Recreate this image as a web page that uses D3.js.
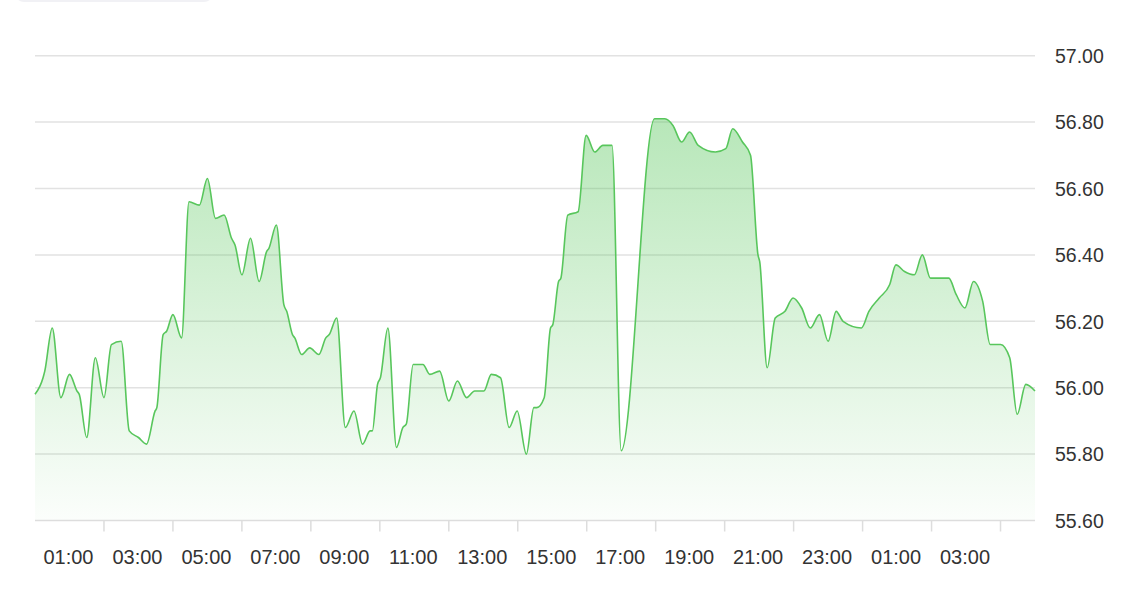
<!DOCTYPE html>
<html>
<head>
<meta charset="utf-8">
<script src="https://cdn.jsdelivr.net/npm/d3@7"></script>
<style>
  html, body { margin: 0; padding: 0; background: #ffffff; }
  svg { display: block; }
</style>
</head>
<body>
<svg id="chart" width="1146" height="610"></svg>
<script>
// ---- data ----
const times = [
  "2024-03-11 00:00","2024-03-11 00:14","2024-03-11 00:17","2024-03-11 00:30","2024-03-11 00:45",
  "2024-03-11 01:00","2024-03-11 01:13","2024-03-11 01:17","2024-03-11 01:30","2024-03-11 01:45",
  "2024-03-11 02:00","2024-03-11 02:13","2024-03-11 02:30","2024-03-11 02:44","2024-03-11 03:00",
  "2024-03-11 03:14","2024-03-11 03:29","2024-03-11 03:32","2024-03-11 03:43","2024-03-11 03:49",
  "2024-03-11 04:00","2024-03-11 04:15","2024-03-11 04:28","2024-03-11 04:46","2024-03-11 05:00",
  "2024-03-11 05:14","2024-03-11 05:29","2024-03-11 05:42","2024-03-11 05:48","2024-03-11 06:00",
  "2024-03-11 06:15","2024-03-11 06:30","2024-03-11 06:43","2024-03-11 06:47","2024-03-11 07:00",
  "2024-03-11 07:13","2024-03-11 07:18","2024-03-11 07:28","2024-03-11 07:32","2024-03-11 07:44",
  "2024-03-11 07:58","2024-03-11 08:14","2024-03-11 08:26","2024-03-11 08:32","2024-03-11 08:45",
  "2024-03-11 09:00","2024-03-11 09:15","2024-03-11 09:30","2024-03-11 09:43","2024-03-11 09:47",
  "2024-03-11 09:56","2024-03-11 10:01","2024-03-11 10:14","2024-03-11 10:29","2024-03-11 10:40",
  "2024-03-11 10:46","2024-03-11 10:58","2024-03-11 11:15","2024-03-11 11:27","2024-03-11 11:44",
  "2024-03-11 12:00","2024-03-11 12:15","2024-03-11 12:31","2024-03-11 12:45","2024-03-11 13:01",
  "2024-03-11 13:14","2024-03-11 13:30","2024-03-11 13:45","2024-03-11 13:59","2024-03-11 14:15",
  "2024-03-11 14:28","2024-03-11 14:33","2024-03-11 14:46","2024-03-11 14:57","2024-03-11 15:01",
  "2024-03-11 15:11","2024-03-11 15:15","2024-03-11 15:27","2024-03-11 15:45","2024-03-11 15:59",
  "2024-03-11 16:14","2024-03-11 16:28","2024-03-11 16:44","2024-03-11 17:00","2024-03-11 17:58",
  "2024-03-11 18:16","2024-03-11 18:30","2024-03-11 18:45","2024-03-11 18:59","2024-03-11 19:14",
  "2024-03-11 19:44","2024-03-11 20:02","2024-03-11 20:14","2024-03-11 20:31","2024-03-11 20:45",
  "2024-03-11 20:58","2024-03-11 21:01","2024-03-11 21:14","2024-03-11 21:28","2024-03-11 21:45",
  "2024-03-11 21:59","2024-03-11 22:14","2024-03-11 22:29","2024-03-11 22:45","2024-03-11 23:00",
  "2024-03-11 23:14","2024-03-11 23:26","2024-03-11 23:58","2024-03-12 00:11","2024-03-12 00:29",
  "2024-03-12 00:47","2024-03-12 00:58","2024-03-12 01:13","2024-03-12 01:30","2024-03-12 01:44",
  "2024-03-12 01:58","2024-03-12 02:30","2024-03-12 02:43","2024-03-12 02:58","2024-03-12 03:13",
  "2024-03-12 03:29","2024-03-12 03:42","2024-03-12 04:00","2024-03-12 04:16","2024-03-12 04:29",
  "2024-03-12 04:44","2024-03-12 05:00"
];
const values = [
  55.98,56.03,56.05,56.18,55.97,
  56.04,55.99,55.98,55.85,56.09,
  55.97,56.13,56.14,55.87,55.85,
  55.83,55.93,55.94,56.16,56.17,
  56.22,56.15,56.56,56.55,56.63,
  56.51,56.52,56.45,56.43,56.34,
  56.45,56.32,56.41,56.42,56.49,
  56.25,56.23,56.16,56.15,56.10,
  56.12,56.10,56.15,56.16,56.21,
  55.88,55.93,55.83,55.87,55.87,
  56.01,56.03,56.18,55.82,55.88,
  55.89,56.07,56.07,56.04,56.05,
  55.96,56.02,55.97,55.99,55.99,
  56.04,56.03,55.88,55.93,55.80,
  55.94,55.94,55.97,56.18,56.19,
  56.32,56.33,56.52,56.53,56.76,
  56.71,56.73,56.73,55.81,56.81,
  56.81,56.79,56.74,56.77,56.73,
  56.71,56.72,56.78,56.74,56.70,
  56.40,56.38,56.06,56.21,56.23,
  56.27,56.24,56.18,56.22,56.14,
  56.23,56.20,56.18,56.23,56.27,
  56.31,56.37,56.35,56.34,56.40,
  56.33,56.33,56.28,56.24,56.32,
  56.26,56.13,56.13,56.09,55.92,
  56.01,55.99
];
const yTicks = [55.6, 55.8, 56.0, 56.2, 56.4, 56.6, 56.8, 57.0];
const xDomain = ["2024-03-11 00:00", "2024-03-12 05:00"];
const yDomain = [55.6, 57.0];

// ---- drawing ----
(function () {
  const parse = d3.timeParse("%Y-%m-%d %H:%M");
  const data = times.map((t, i) => ({ t: parse(t), v: values[i] }));

  const svg = d3.select("#chart");
  const pLeft = 35, pRight = 1035, pTop = 55.7, pBottom = 520.5;

  const x = d3.scaleTime().domain(xDomain.map(parse)).range([pLeft, pRight]);
  const y = d3.scaleLinear().domain(yDomain).range([pBottom, pTop]);

  // faint rounded element at top-left
  svg.append("rect").attr("x", 15).attr("y", -20).attr("width", 198).attr("height", 22)
    .attr("rx", 9).attr("fill", "#f1f1f5");

  // gradient
  const defs = svg.append("defs");
  const grad = defs.append("linearGradient").attr("id", "fillGrad")
    .attr("gradientUnits", "userSpaceOnUse")
    .attr("x1", 0).attr("x2", 0).attr("y1", pTop).attr("y2", pBottom);
  grad.append("stop").attr("offset", "0%").attr("stop-color", "#4cc350").attr("stop-opacity", 0.46);
  grad.append("stop").attr("offset", "100%").attr("stop-color", "#4cc350").attr("stop-opacity", 0.02);

  // grid lines
  svg.append("g").selectAll("line").data(yTicks.filter(d => d !== yDomain[0])).join("line")
    .attr("x1", pLeft).attr("x2", pRight)
    .attr("y1", d => y(d)).attr("y2", d => y(d))
    .attr("stroke", "#e2e2e2").attr("stroke-width", 1.5);

  // area + line
  const area = d3.area().x(d => x(d.t)).y0(pBottom).y1(d => y(d.v)).curve(d3.curveMonotoneX);
  const line = d3.line().x(d => x(d.t)).y(d => y(d.v)).curve(d3.curveMonotoneX);

  svg.append("path").datum(data).attr("d", area).attr("fill", "url(#fillGrad)");
  svg.append("path").datum(data).attr("d", line)
    .attr("fill", "none").attr("stroke", "#58c65c").attr("stroke-width", 1.6)
    .attr("stroke-linejoin", "round");

  // x axis: ticks at even hours, labels at odd hours
  const xAxisG = svg.append("g").attr("transform", `translate(0,${pBottom})`);
  const d0 = x.domain()[0], d1 = x.domain()[1];
  const evenHours = d3.timeHours(d0, d1).filter(d => d.getHours() % 2 === 0 && +d > +d0);
  const oddHours = d3.timeHours(d0, d1).filter(d => d.getHours() % 2 === 1);

  xAxisG.append("line").attr("x1", pLeft).attr("x2", pRight).attr("y1", 0).attr("y2", 0)
    .attr("stroke", "#dddddd").attr("stroke-width", 1.5);
  xAxisG.selectAll("line.tick").data(evenHours).join("line").attr("class", "tick")
    .attr("x1", d => x(d)).attr("x2", d => x(d)).attr("y1", 0).attr("y2", 11)
    .attr("stroke", "#dddddd").attr("stroke-width", 1.5);
  const fmt = d3.timeFormat("%H:%M");
  xAxisG.selectAll("text").data(oddHours).join("text")
    .attr("x", d => x(d) - 1).attr("y", 43)
    .attr("text-anchor", "middle")
    .attr("font-family", "'Liberation Sans', Arial, Helvetica, sans-serif")
    .attr("font-size", 20).attr("fill", "#333333")
    .text(d => fmt(d));

  // y axis labels (right)
  svg.append("g").selectAll("text").data(yTicks).join("text")
    .attr("x", 1055).attr("y", d => y(d))
    .attr("dy", "0.37em")
    .attr("font-family", "'Liberation Sans', Arial, Helvetica, sans-serif")
    .attr("font-size", 19.5).attr("fill", "#333333")
    .text(d => d.toFixed(2));
})();
</script>
</body>
</html>
